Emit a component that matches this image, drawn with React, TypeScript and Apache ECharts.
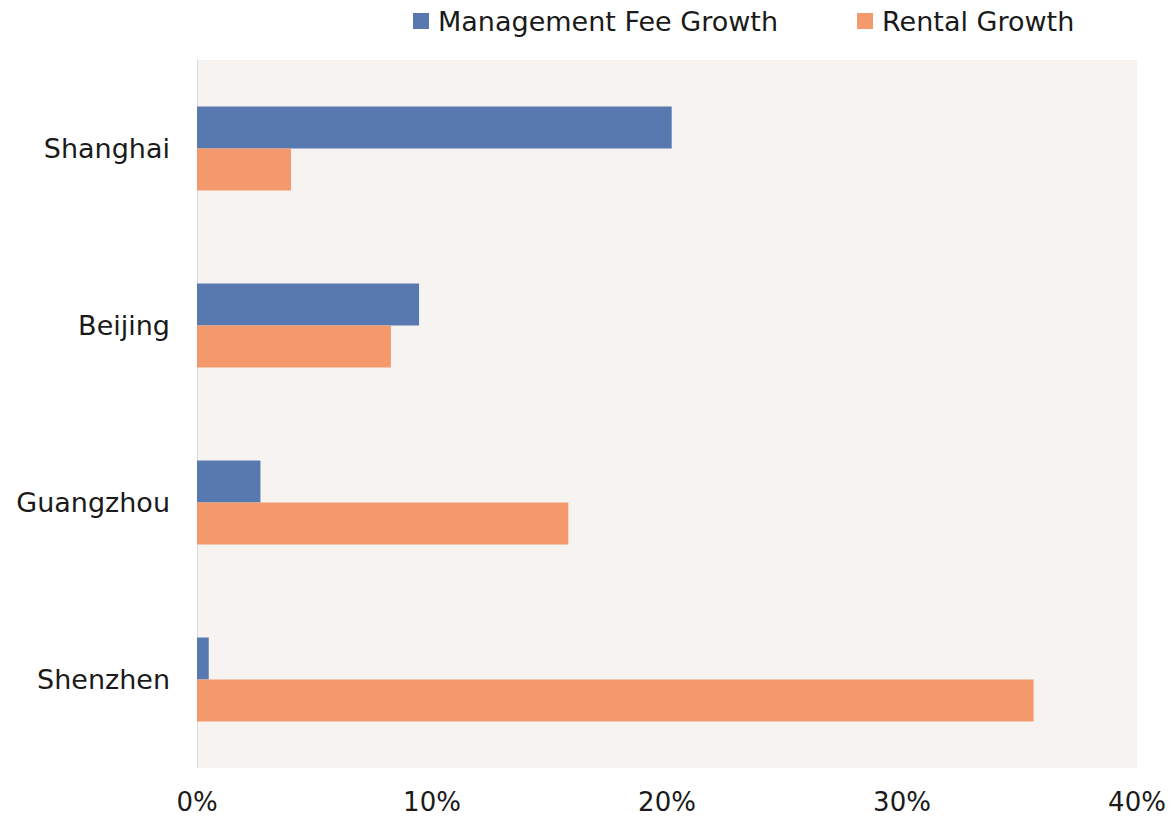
import React, { useEffect, useRef } from "react";
import * as echarts from "echarts";

const categories = ["Shanghai", "Beijing", "Guangzhou", "Shenzhen"];
const managementFeeGrowth = [20.2, 9.45, 2.7, 0.5];
const rentalGrowth = [4.0, 8.25, 15.8, 35.6];
const seriesNames = ["Management Fee Growth", "Rental Growth"];

export default function App() {
  const ref = useRef<HTMLDivElement>(null);
  useEffect(() => {
    const chart = echarts.init(ref.current!, undefined, { renderer: "svg" });
    const font = "DejaVu Sans";
    chart.setOption({
      animation: false,
      backgroundColor: "#ffffff",
      legend: {
        top: 6,
        left: 413,
        padding: 0,
        itemWidth: 16,
        itemHeight: 16,
        itemGap: 79,
        icon: "rect",
        textStyle: { fontFamily: font, fontSize: 27, color: "#1a1a1a", padding: [0, 0, 0, 4], lineHeight: 30 },
        data: seriesNames,
      },
      grid: {
        left: 197,
        right: 38,
        top: 60,
        bottom: 48,
        show: true,
        backgroundColor: "#f7f3f0",
        borderWidth: 0,
      },
      xAxis: {
        type: "value",
        min: 0,
        max: 40,
        interval: 10,
        axisLine: { show: false },
        axisTick: { show: false },
        splitLine: { show: false },
        axisLabel: {
          formatter: "{value}%",
          fontFamily: font,
          fontSize: 26,
          lineHeight: 26,
          color: "#1a1a1a",
          margin: 21,
        },
      },
      yAxis: {
        type: "category",
        inverse: true,
        data: categories,
        axisLine: { show: true, lineStyle: { color: "#d9d9d9", width: 1 } },
        axisTick: { show: false },
        axisLabel: {
          fontFamily: font,
          fontSize: 27,
          color: "#1a1a1a",
          margin: 27,
        },
      },
      series: [
        {
          name: seriesNames[0],
          type: "bar",
          data: managementFeeGrowth,
          barWidth: 42,
          barGap: "0%",
          itemStyle: { color: "#5878b0" },
        },
        {
          name: seriesNames[1],
          type: "bar",
          data: rentalGrowth,
          barWidth: 42,
          barGap: "0%",
          itemStyle: { color: "#f4996c" },
        },
      ],
    });
    return () => chart.dispose();
  }, []);
  return (
    <div
      ref={ref}
      style={{ position: "fixed", left: 0, top: 0, width: 1175, height: 816 }}
    />
  );
}
